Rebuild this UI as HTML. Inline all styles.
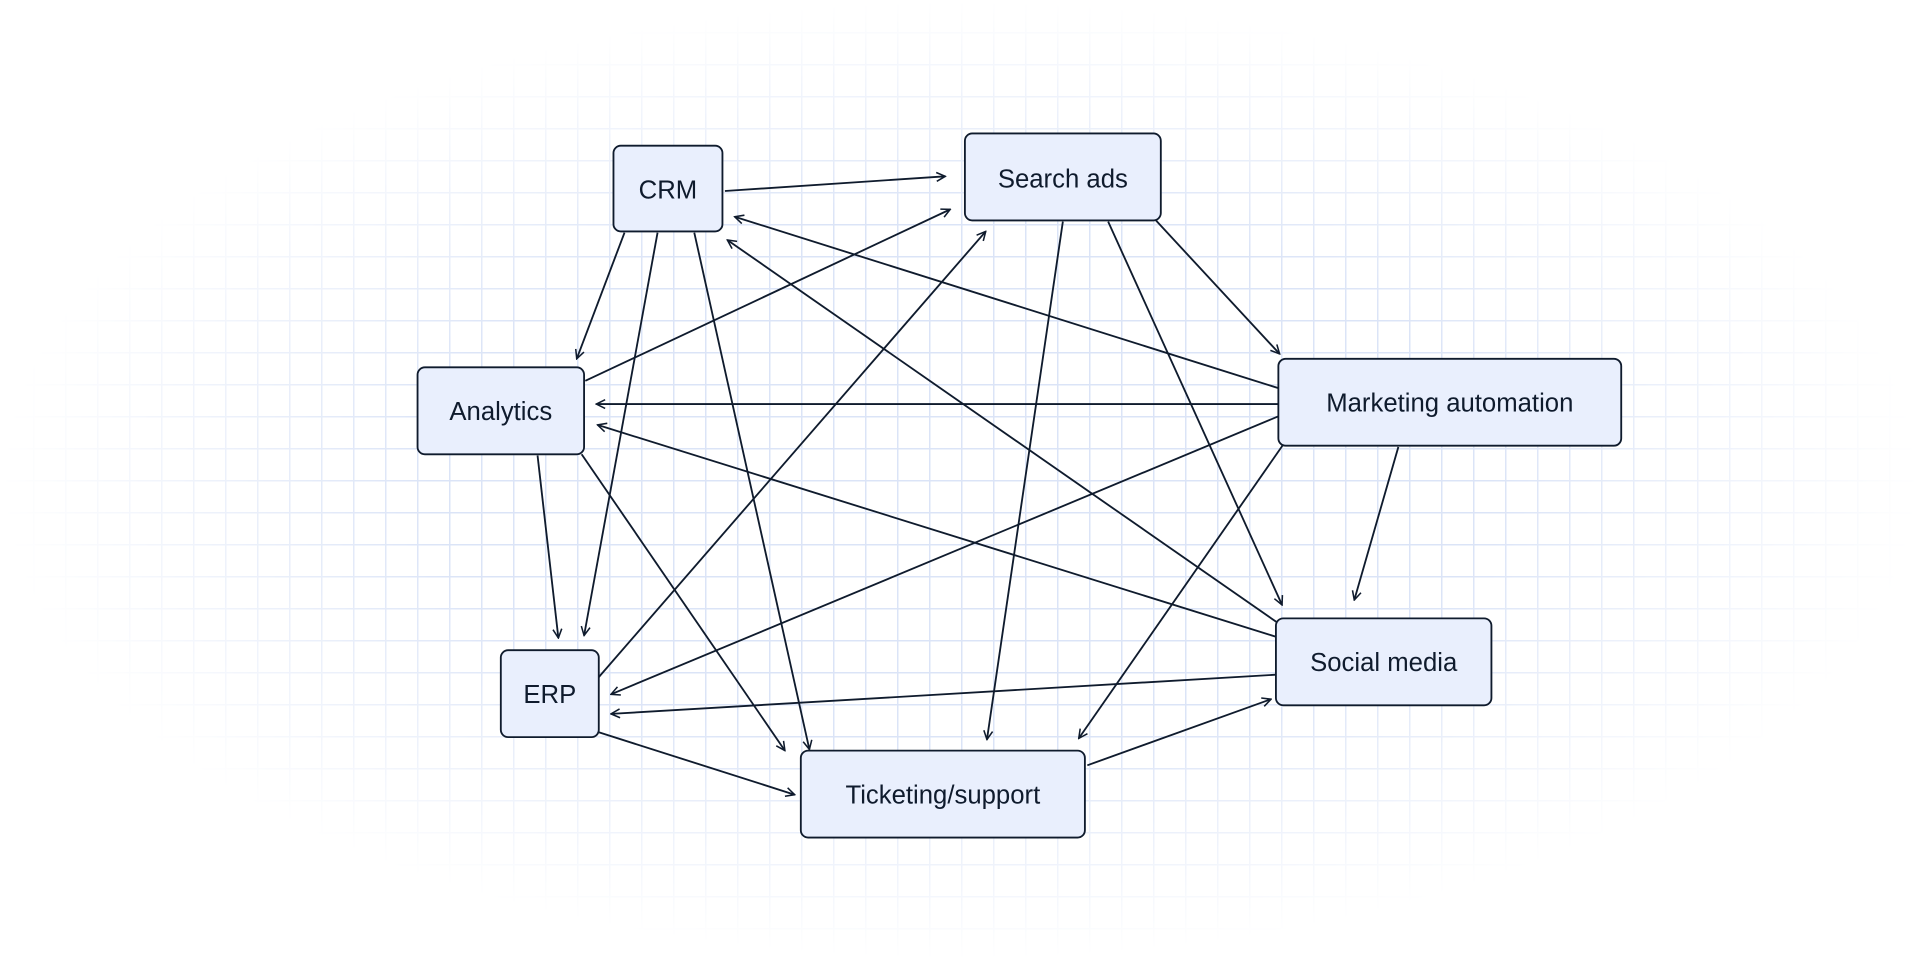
<!DOCTYPE html>
<html><head><meta charset="utf-8"><style>
html,body{margin:0;padding:0;background:#fff;}
.wrap{position:relative;width:1920px;height:960px;overflow:hidden;background:#fff;}
.grid{position:absolute;inset:0;
background-image:linear-gradient(to right,#dbe4f7 1.5px,transparent 1.5px),linear-gradient(to bottom,#dbe4f7 1.5px,transparent 1.5px);
background-size:32px 32px;background-position:1px 0;
-webkit-mask-image:radial-gradient(ellipse 50% 50% at 50% 50%,#000 55%,transparent 100%);
mask-image:radial-gradient(ellipse 50% 50% at 50% 50%,#000 55%,transparent 100%);}
svg{position:absolute;left:0;top:0;}
text{font-family:"Liberation Sans",sans-serif;font-size:21px;fill:#0f1b2d;}
</style></head><body><div class="wrap"><div class="grid"></div>
<svg width="1920" height="960" viewBox="0 0 1568 784">
<defs><marker id="a" viewBox="0 0 10 10" refX="9" refY="5" markerWidth="9" markerHeight="9" markerUnits="userSpaceOnUse" orient="auto"><path d="M1,1 L9,5 L1,9" fill="none" stroke="#0f1b2d" stroke-width="1.4"/></marker></defs>
<g stroke="#0f1b2d" stroke-width="1.5" fill="none" marker-end="url(#a)">
<line x1="592" y1="156" x2="772" y2="144"/>
<line x1="510" y1="190" x2="471" y2="293"/>
<line x1="537" y1="190" x2="477" y2="519"/>
<line x1="567" y1="190" x2="661" y2="612"/>
<line x1="478" y1="311" x2="776" y2="171"/>
<line x1="489" y1="553" x2="805" y2="189"/>
<line x1="1044" y1="317" x2="600" y2="177"/>
<line x1="1044" y1="509" x2="594" y2="196"/>
<line x1="1044" y1="330" x2="487" y2="330"/>
<line x1="1042" y1="520" x2="488" y2="347"/>
<line x1="868" y1="181" x2="806" y2="604"/>
<line x1="905" y1="181" x2="1047" y2="494"/>
<line x1="944" y1="180" x2="1045" y2="289"/>
<line x1="1142" y1="365" x2="1106" y2="490"/>
<line x1="1044" y1="340" x2="499" y2="567"/>
<line x1="1048" y1="363" x2="881" y2="603"/>
<line x1="1042" y1="551" x2="499" y2="583"/>
<line x1="439" y1="372" x2="456" y2="521"/>
<line x1="475" y1="371" x2="641" y2="613"/>
<line x1="489" y1="598" x2="649" y2="649"/>
<line x1="888" y1="625" x2="1038" y2="571"/>
</g>
<g fill="#e9effd" stroke="#0f1b2d" stroke-width="1.5">
<rect x="501" y="119" width="89" height="70" rx="6"/>
<rect x="788" y="109" width="160" height="71" rx="6"/>
<rect x="341" y="300" width="136" height="71" rx="6"/>
<rect x="1044" y="293" width="280" height="71" rx="6"/>
<rect x="409" y="531" width="80" height="71" rx="6"/>
<rect x="1042" y="505" width="176" height="71" rx="6"/>
<rect x="654" y="613" width="232" height="71" rx="6"/>
</g>
<g text-anchor="middle">
<text x="545.5" y="162">CRM</text>
<text x="868" y="153">Search ads</text>
<text x="409" y="343">Analytics</text>
<text x="1184" y="336">Marketing automation</text>
<text x="449" y="574">ERP</text>
<text x="1130" y="548">Social media</text>
<text x="770" y="656">Ticketing/support</text>
</g>
</svg></div></body></html>
